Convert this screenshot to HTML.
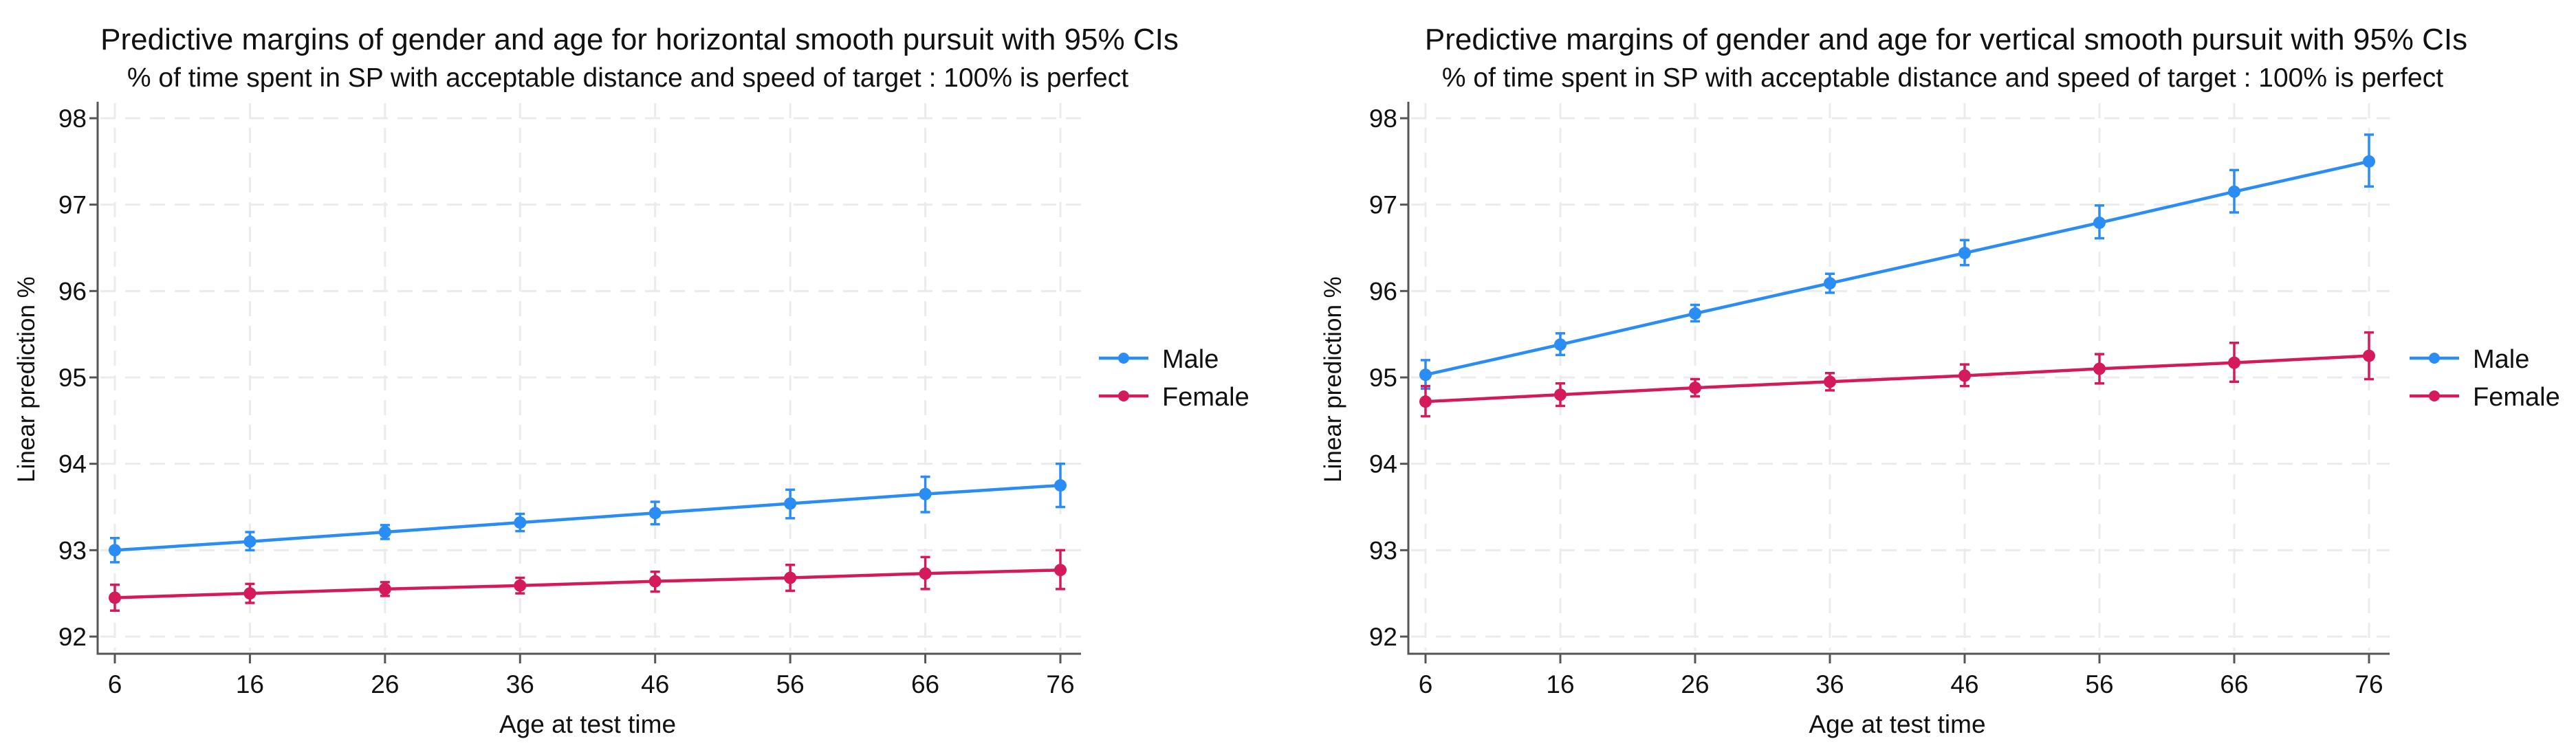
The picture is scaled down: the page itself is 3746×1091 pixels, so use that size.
<!DOCTYPE html>
<html><head><meta charset="utf-8"><style>
html,body{margin:0;padding:0;background:#fff;}
svg{display:block;font-family:"Liberation Sans",Arial,sans-serif;}
</style></head><body>
<svg id="fig" width="3746" height="1091" viewBox="0 0 3746 1091"></svg>
<script>
const ages = [6,16,26,36,46,56,66,76];
const yTicks = [92,93,94,95,96,97,98];
const hMale = [93.0,93.1,93.21,93.32,93.43,93.54,93.65,93.75];
const hMaleLo = [92.86,93.0,93.13,93.22,93.3,93.37,93.44,93.5];
const hMaleHi = [93.14,93.21,93.29,93.42,93.56,93.7,93.85,94.0];
const hFemale = [92.45,92.5,92.55,92.59,92.64,92.68,92.73,92.77];
const hFemaleLo = [92.3,92.39,92.47,92.5,92.52,92.53,92.55,92.55];
const hFemaleHi = [92.6,92.61,92.63,92.68,92.75,92.83,92.92,93.0];
const vMale = [95.03,95.38,95.74,96.09,96.44,96.79,97.15,97.5];
const vMaleLo = [94.87,95.26,95.65,95.98,96.3,96.61,96.91,97.21];
const vMaleHi = [95.2,95.51,95.84,96.2,96.59,96.99,97.4,97.81];
const vFemale = [94.72,94.8,94.88,94.95,95.02,95.1,95.17,95.25];
const vFemaleLo = [94.55,94.67,94.78,94.85,94.9,94.93,94.95,94.98];
const vFemaleHi = [94.9,94.93,94.98,95.05,95.15,95.27,95.4,95.52];

const NS='http://www.w3.org/2000/svg';
const svg=document.getElementById('fig');
function mk(tag,attrs,parent,text){const e=document.createElementNS(NS,tag);for(const k in attrs)e.setAttribute(k,attrs[k]);if(text!==undefined)e.textContent=text;(parent||svg).appendChild(e);return e;}

function chart(cfg){
  const g=mk('g',{});
  
  
  const yTop=172,yBot=926;
  const ys=v=>yBot-(v-92)/6*(yBot-yTop);
  const xs=a=>cfg.x0+(a-6)/70*(cfg.x1-cfg.x0);
  let t=mk('text',{x:cfg.tx,y:72,'text-anchor':'middle','font-size':44,fill:'#111'},g,cfg.title);
  
  
  t=mk('text',{x:cfg.sx,y:126,'text-anchor':'middle','font-size':39,fill:'#111'},g,'% of time spent in SP with acceptable distance and speed of target : 100% is perfect');
  
  
  yTicks.forEach(v=>{const l=mk('line',{x1:cfg.ax+4,x2:cfg.axEnd,y1:ys(v),y2:ys(v),stroke:'#ebebeb','stroke-width':3,'stroke-dasharray':'22 14'},g);
    
    });
  ages.forEach(a=>{const l=mk('line',{x1:xs(a),x2:xs(a),y1:yTop-22,y2:cfg.axY-4,stroke:'#ebebeb','stroke-width':3,'stroke-dasharray':'22 14'},g);
    
    });
  let ax=mk('line',{x1:cfg.ax,x2:cfg.ax,y1:148,y2:cfg.axY+1.5,stroke:'#555','stroke-width':3},g);
  
  
  ax=mk('line',{x1:cfg.ax-1.5,x2:cfg.axEnd,y1:cfg.axY,y2:cfg.axY,stroke:'#555','stroke-width':3},g);
  
  
  yTicks.forEach(v=>{mk('line',{x1:cfg.ax-12,x2:cfg.ax,y1:ys(v),y2:ys(v),stroke:'#555','stroke-width':3},g);
    const l=mk('text',{x:cfg.ax-16,y:ys(v)+13,'text-anchor':'end','font-size':37,fill:'#111'},g,String(v));
    
    });
  ages.forEach(a=>{mk('line',{x1:xs(a),x2:xs(a),y1:cfg.axY,y2:cfg.axY+14,stroke:'#555','stroke-width':3},g);
    const l=mk('text',{x:xs(a),y:1008,'text-anchor':'middle','font-size':37,fill:'#111'},g,String(a));
    
    });
  t=mk('text',{x:(cfg.x0+cfg.x1)/2,y:1066,'text-anchor':'middle','font-size':37,fill:'#111'},g,'Age at test time');
  
  
  t=mk('text',{x:0,y:0,'text-anchor':'middle','font-size':35,fill:'#111',transform:`translate(${cfg.ytx},552) rotate(-90)`},g,'Linear prediction %');
  
  
  const series=[{n:'male',c:'#2a8cf5',v:cfg.m,lo:cfg.mlo,hi:cfg.mhi},{n:'female',c:'#d51a5b',v:cfg.f,lo:cfg.flo,hi:cfg.fhi}];
  series.forEach(s=>{
    const sg=mk('g',{},g);
    
    
    const pts=s.v.map((v,i)=>xs(ages[i])+','+ys(v)).join(' ');
    const pl=mk('polyline',{points:pts,fill:'none',stroke:s.c,'stroke-width':4.5},sg);
    
    
    s.v.forEach((v,i)=>{
      const x=xs(ages[i]);
      const e=mk('path',{d:`M${x},${ys(s.lo[i])}V${ys(s.hi[i])}M${x-7},${ys(s.lo[i])}H${x+7}M${x-7},${ys(s.hi[i])}H${x+7}`,stroke:s.c,'stroke-width':3.5,fill:'none'},sg);
      
      
      const c=mk('circle',{cx:x,cy:ys(v),r:9,fill:s.c},sg);
      
      
    });
  });
  [['Male','#2a8cf5',521],['Female','#d51a5b',576]].forEach(([lab,c,y])=>{
    const lg=mk('g',{},g);
    
    
    mk('line',{x1:cfg.lx,x2:cfg.lx+72,y1:y,y2:y,stroke:c,'stroke-width':4.5},lg);
    mk('circle',{cx:cfg.lx+36,cy:y,r:8,fill:c},lg);
    mk('text',{x:cfg.lx+92,y:y+14,'font-size':38,fill:'#111'},lg,lab);
  });
}
chart({name:'horizontal-chart',title:'Predictive margins of gender and age for horizontal smooth pursuit with 95% CIs',
  tx:930,sx:913,ax:142,axEnd:1572,axY:951,x0:167,x1:1542,ytx:50,lx:1598,
  m:hMale,mlo:hMaleLo,mhi:hMaleHi,f:hFemale,flo:hFemaleLo,fhi:hFemaleHi});
chart({name:'vertical-chart',title:'Predictive margins of gender and age for vertical smooth pursuit with 95% CIs',
  tx:2830,sx:2825,ax:2048,axEnd:3475,axY:951,x0:2073,x1:3445,ytx:1950,lx:3504,
  m:vMale,mlo:vMaleLo,mhi:vMaleHi,f:vFemale,flo:vFemaleLo,fhi:vFemaleHi});
</script>
</body></html>
